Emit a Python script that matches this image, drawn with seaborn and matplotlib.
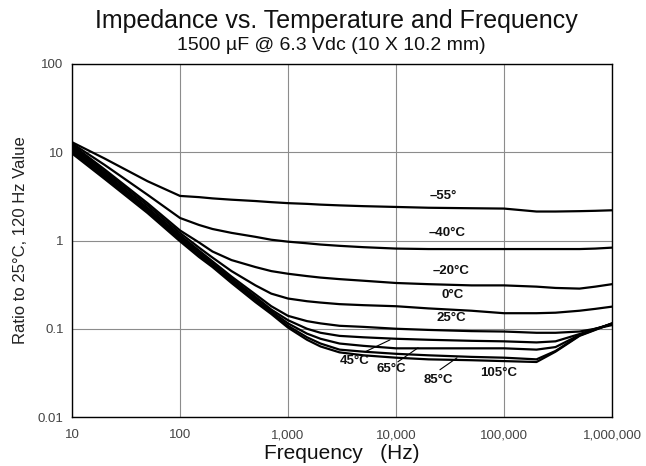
import matplotlib
matplotlib.use("Agg")
import matplotlib.pyplot as plt
import matplotlib.ticker as mticker
import seaborn as sns
import pandas as pd

# ---- data ----
freq = [10, 20, 50, 100, 150, 200, 300, 500, 700, 1000, 1500, 2000, 3000, 5000,
        10000, 20000, 50000, 100000, 200000, 300000, 500000, 700000, 1000000]
temps = ["-55", "-40", "-20", "0", "25", "45", "65", "85", "105"]
z_m55 = [13.0, 8.5, 4.7, 3.2, 3.1, 3.0, 2.9, 2.8, 2.72, 2.65, 2.6, 2.55, 2.5, 2.45,
         2.4, 2.35, 2.32, 2.3, 2.13, 2.13, 2.15, 2.17, 2.2]
z_m40 = [12.6, 7.2, 3.3, 1.8, 1.5, 1.35, 1.22, 1.1, 1.02, 0.97, 0.93, 0.9, 0.87, 0.84,
         0.81, 0.8, 0.8, 0.8, 0.8, 0.8, 0.8, 0.81, 0.83]
z_m20 = [12.2, 6.4, 2.65, 1.3, 0.95, 0.75, 0.6, 0.5, 0.45, 0.42, 0.395, 0.38, 0.365, 0.35,
         0.33, 0.32, 0.31, 0.31, 0.30, 0.29, 0.285, 0.3, 0.32]
z_0 = [11.8, 6.1, 2.5, 1.22, 0.83, 0.64, 0.45, 0.31, 0.25, 0.22, 0.205, 0.198, 0.19, 0.185,
       0.18, 0.17, 0.16, 0.15, 0.15, 0.152, 0.16, 0.168, 0.178]
z_25 = [11.3, 5.8, 2.35, 1.15, 0.77, 0.58, 0.39, 0.245, 0.18, 0.14, 0.122, 0.115, 0.108, 0.105,
        0.1, 0.097, 0.094, 0.093, 0.09, 0.09, 0.093, 0.1, 0.11]
z_45 = [10.9, 5.6, 2.27, 1.1, 0.74, 0.55, 0.37, 0.23, 0.165, 0.125, 0.1, 0.09, 0.083, 0.08,
        0.077, 0.075, 0.073, 0.072, 0.07, 0.072, 0.087, 0.1, 0.113]
z_65 = [10.5, 5.4, 2.2, 1.06, 0.71, 0.54, 0.355, 0.22, 0.158, 0.115, 0.088, 0.077, 0.068, 0.064,
        0.06, 0.06, 0.06, 0.06, 0.058, 0.062, 0.085, 0.099, 0.114]
z_85 = [10.1, 5.2, 2.12, 1.02, 0.68, 0.52, 0.34, 0.21, 0.152, 0.108, 0.08, 0.068, 0.058, 0.055,
        0.052, 0.05, 0.048, 0.047, 0.045, 0.056, 0.084, 0.098, 0.115]
z_105 = [9.7, 5.0, 2.05, 0.98, 0.65, 0.5, 0.33, 0.2, 0.147, 0.103, 0.075, 0.063, 0.054, 0.05,
         0.047, 0.045, 0.044, 0.043, 0.042, 0.055, 0.083, 0.097, 0.115]
series = [z_m55, z_m40, z_m20, z_0, z_25, z_45, z_65, z_85, z_105]

xtick_vals = [10, 100, 1000, 10000, 100000, 1000000]
xtick_labels = ["10", "100", "1,000", "10,000", "100,000", "1,000,000"]
ytick_vals = [0.01, 0.1, 1, 10, 100]
ytick_labels = ["0.01", "0.1", "1", "10", "100"]

label_texts = ["\u201355\u00b0", "\u201340\u00b0C", "\u201320\u00b0C", "0\u00b0C", "25\u00b0C",
               "45\u00b0C", "65\u00b0C", "85\u00b0C", "105\u00b0C"]
label_x = [27200, 29700, 32300, 33700, 32300, 4170, 9000, 24500, 90000]
label_y = [3.2, 1.22, 0.453, 0.242, 0.133, 0.0433, 0.0352, 0.0264, 0.0316]
# leader lines (label side -> curve side), None for no leader
leader = [None, None, None, None, None,
          ((5160, 0.0547), (8800, 0.0748)),
          ((10400, 0.0422), (16000, 0.0608)),
          ((25500, 0.0343), (36700, 0.0468)),
          None]

rows = []
for t, vals in zip(temps, series):
    for f, v in zip(freq, vals):
        rows.append({"Frequency": f, "Ratio": v, "Temp": t})
df = pd.DataFrame(rows)

sns.set_style("white")
plt.rcParams["font.family"] = ["Liberation Sans", "DejaVu Sans"]

fig = plt.figure(figsize=(6.46, 4.66), dpi=100)
ax = fig.add_axes([72 / 646, 1 - 417 / 466, 540 / 646, 353 / 466])

sns.lineplot(data=df, x="Frequency", y="Ratio", hue="Temp",
             palette=["black"] * len(temps), linewidth=1.6, legend=False,
             ax=ax, estimator=None, sort=True)

ax.set_xscale("log")
ax.set_yscale("log")
ax.set_xlim(10, 1000000)
ax.set_ylim(0.01, 100)

ax.set_xticks(xtick_vals)
ax.set_xticklabels(xtick_labels)
ax.set_yticks(ytick_vals)
ax.set_yticklabels(ytick_labels)
ax.xaxis.set_minor_locator(mticker.LogLocator(base=10, subs=range(2, 10)))
ax.yaxis.set_minor_locator(mticker.LogLocator(base=10, subs=range(2, 10)))
ax.xaxis.set_minor_formatter(mticker.NullFormatter())
ax.yaxis.set_minor_formatter(mticker.NullFormatter())
ax.tick_params(axis="both", which="major", labelsize=9.5, labelcolor="#444444",
               direction="in", length=4, width=0.8)
ax.tick_params(axis="x", which="major", pad=9)
ax.tick_params(axis="y", which="major", pad=6)
ax.tick_params(axis="both", which="minor", direction="in", length=2.5, width=0.6)

ax.grid(True, which="major", color="#8c8c8c", linewidth=0.8)
for s in ax.spines.values():
    s.set_color("black")
    s.set_linewidth(1.0)

ax.set_xlabel("Frequency   (Hz)", fontsize=15, labelpad=2, color="#111111")
ax.set_ylabel("Ratio to 25\u00b0C, 120 Hz Value", fontsize=12, labelpad=7, color="#222222")

for txt, lx, ly, ld in zip(label_texts, label_x, label_y, leader):
    ax.text(lx, ly, txt, fontsize=9.5, fontweight="bold", ha="center", va="center",
            color="#111111")
    if ld is not None:
        ax.plot([ld[0][0], ld[1][0]], [ld[0][1], ld[1][1]], color="black", linewidth=0.8)

fig.text(0.52, 1 - 21 / 466, "Impedance vs. Temperature and Frequency",
         ha="center", va="center", fontsize=18, color="#111111")
fig.text(0.513, 1 - 46 / 466, "1500 \u00b5F @ 6.3 Vdc (10 X 10.2 mm)",
         ha="center", va="center", fontsize=14, color="#111111")

fig.savefig("out.png", dpi=100, facecolor="white")
